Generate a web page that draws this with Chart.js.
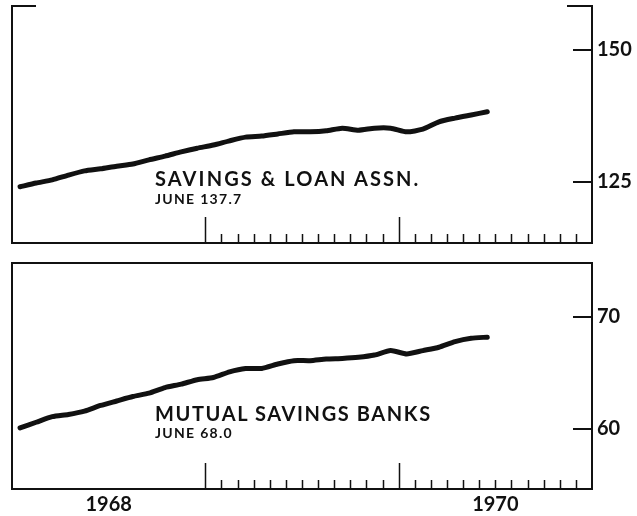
<!DOCTYPE html>
<html>
<head>
<meta charset="utf-8">
<script src="https://cdn.jsdelivr.net/npm/chart.js@4.4.1/dist/chart.umd.min.js"></script>
<style>
  html, body { margin: 0; padding: 0; background: #fff; }
  #page { position: relative; width: 637px; height: 516px; overflow: hidden; font-family: Lato, sans-serif; color: #111; }
  .panel { position: absolute; left: 0; width: 637px; }
  .label { position: absolute; font-weight: 700; line-height: 1; white-space: nowrap; }
  .big { font-size: 20px; }
  .small { font-size: 14px; letter-spacing: 1.3px; }
</style>
</head>
<body>
<div id="page">
  <div class="panel" style="top:0;height:250px"><canvas id="topChart"></canvas></div>
  <div class="panel" style="top:250px;height:266px"><canvas id="bottomChart"></canvas></div>
  <div class="label big" style="left:155px;top:168px;letter-spacing:2.1px">SAVINGS &amp; LOAN ASSN.</div>
  <div class="label small" style="left:155px;top:192px">JUNE 137.7</div>
  <div class="label big" style="left:155px;top:403px;letter-spacing:1.6px">MUTUAL SAVINGS BANKS</div>
  <div class="label small" style="left:155px;top:426px">JUNE 68.0</div>
</div>
<script>
// monthly, Jan 1968 - Jun 1970
const monthNames = ['Jan','Feb','Mar','Apr','May','Jun','Jul','Aug','Sep','Oct','Nov','Dec'];
const years = ['1968', '1969', '1970'];

const savingsLoan = [
  124.1, 124.8, 125.4, 126.3, 127.1, 127.5, 128.0, 128.4, 129.2, 129.9, 130.7, 131.4,
  132.0, 132.8, 133.5, 133.7, 134.1, 134.5, 134.5, 134.7, 135.2, 134.8, 135.2, 135.2,
  134.5, 135.0, 136.4, 137.1, 137.7, 138.3
];
const mutualSavings = [
  60.1, 60.6, 61.1, 61.3, 61.6, 62.1, 62.5, 62.9, 63.2, 63.7, 64.0, 64.4,
  64.6, 65.1, 65.4, 65.4, 65.8, 66.1, 66.1, 66.25, 66.3, 66.4, 66.6, 67.0,
  66.7, 67.0, 67.3, 67.8, 68.1, 68.2
];

const topTicks = [125, 150];
const bottomTicks = [60, 70];
const yearLabels = ['1968', '1970'];
const yearLabelMonth = [6, 30];   // middle of the year, in months from Jan 1968
const totalMonths = years.length * 12;

function toPoints(values) {
  return values.map((v, i) => ({ x: i + 0.5, y: v }));
}

// frame, inward y ticks and month ticks along the bottom
const framePlugin = {
  id: 'frame',
  afterDraw(chart, args, opts) {
    const { ctx, chartArea: a, scales: { x, y } } = chart;
    ctx.save();
    ctx.strokeStyle = '#111';
    ctx.lineWidth = 2;
    ctx.beginPath();
    if (opts.openTop) {
      ctx.moveTo(a.left + 24, a.top);
      ctx.lineTo(a.left, a.top);
      ctx.lineTo(a.left, a.bottom);
      ctx.lineTo(a.right, a.bottom);
      ctx.lineTo(a.right, a.top);
      ctx.lineTo(a.right - 25, a.top);
    } else {
      ctx.rect(a.left, a.top, a.right - a.left, a.bottom - a.top);
    }
    ctx.stroke();

    ctx.beginPath();
    y.ticks.forEach(t => {
      const py = y.getPixelForValue(t.value);
      ctx.moveTo(a.right - 19, py);
      ctx.lineTo(a.right, py);
    });
    ctx.stroke();

    ctx.lineWidth = 1.5;
    ctx.beginPath();
    for (let k = 12; k < totalMonths; k++) {
      const px = Math.round(x.getPixelForValue(k)) + 0.5;
      const h = k % 12 === 0 ? 26 : 9;
      ctx.moveTo(px, a.bottom);
      ctx.lineTo(px, a.bottom - h);
    }
    ctx.stroke();
    ctx.restore();
  }
};

function makeChart(id, values, yMin, yMax, yTicks, showYears, padding, openTop) {
  const ctx = document.getElementById(id).getContext('2d');
  return new Chart(ctx, {
    type: 'line',
    data: {
      datasets: [{
        data: toPoints(values),
        borderColor: '#111',
        borderWidth: 5,
        pointRadius: 0,
        tension: 0.2,
        fill: false,
        borderCapStyle: 'round',
        borderJoinStyle: 'round'
      }]
    },
    options: {
      responsive: true,
      maintainAspectRatio: false,
      animation: false,
      layout: { padding: padding, autoPadding: false },
      plugins: {
        legend: { display: false },
        tooltip: { enabled: false },
        frame: { openTop: openTop }
      },
      scales: {
        x: {
          type: 'linear',
          min: 0,
          max: totalMonths,
          display: showYears,
          grid: { display: false, drawTicks: false },
          border: { display: false },
          afterBuildTicks: s => { s.ticks = yearLabelMonth.map(v => ({ value: v })); },
          afterFit: s => { s.height = showYears ? 27 : 0; },
          ticks: {
            autoSkip: false,
            maxRotation: 0,
            padding: 4,
            color: '#111',
            font: { family: 'Lato, sans-serif', size: 20, weight: 'bold' },
            callback: (v) => yearLabels[yearLabelMonth.indexOf(v)]
          }
        },
        y: {
          position: 'right',
          min: yMin,
          max: yMax,
          grid: { display: false, drawTicks: false },
          border: { display: false },
          afterBuildTicks: s => { s.ticks = yTicks.map(v => ({ value: v })); },
          afterFit: s => { s.width = 45; s.paddingTop = 0; s.paddingBottom = 0; },
          ticks: {
            padding: 5,
            color: '#111',
            font: { family: 'Lato, sans-serif', size: 20, weight: 'bold', lineHeight: 0.4 }
          }
        }
      }
    },
    plugins: [framePlugin]
  });
}

makeChart('topChart', savingsLoan, 113.45, 158.33, topTicks, false,
  { left: 12, top: 6, bottom: 7, right: 0 }, true);
makeChart('bottomChart', mutualSavings, 54.64, 74.82, bottomTicks, true,
  { left: 12, top: 13, bottom: 0, right: 0 }, false);
</script>
</body>
</html>
